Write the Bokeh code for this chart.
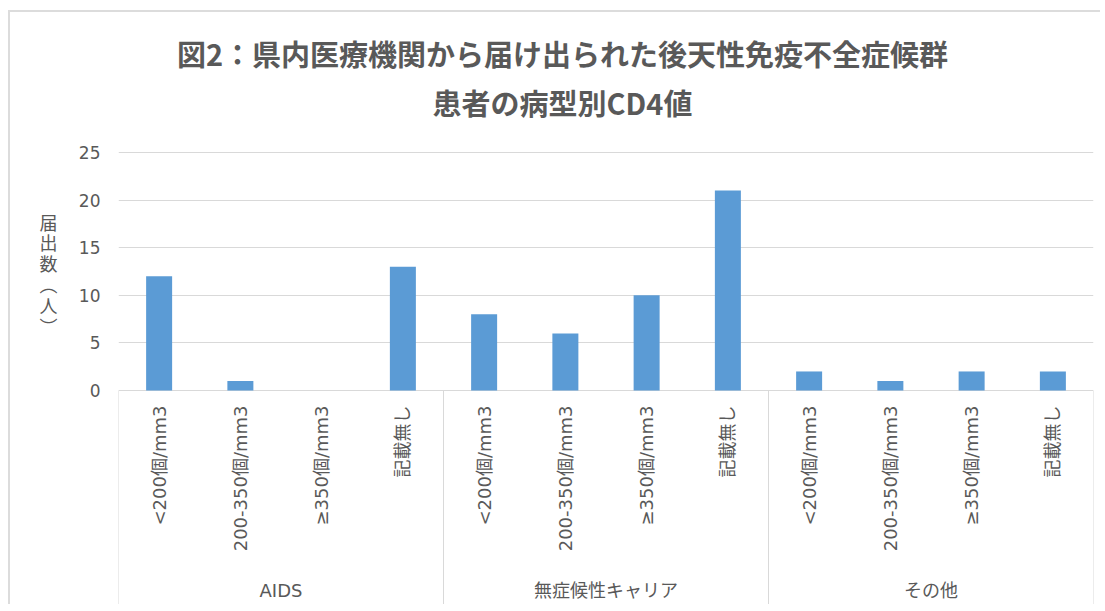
from math import pi
from bokeh.plotting import figure
from bokeh.layouts import row
from bokeh.models import FactorRange, Range1d, FixedTicker, Label, ColumnDataSource
from bokeh.core.properties import value
from bokeh.embed import file_html
from bokeh.resources import INLINE

# ---- data ----
groups = ["AIDS", "無症候性キャリア", "その他"]
subs = ["<200個/mm3", "200-350個/mm3", "≥350個/mm3", "記載無し"]
aids = [12, 1, 0, 13]
carrier = [8, 6, 10, 21]
other = [2, 1, 2, 2]
y_ticks = [0, 5, 10, 15, 20, 25]
title1 = "図2：県内医療機関から届け出られた後天性免疫不全症候群"
title2 = "患者の病型別CD4値"
y_label = "届出数（人）"

# ---- styles ----
FONT = "DejaVu Sans, Noto Sans CJK JP"
CJK = "Noto Sans CJK JP"
TXT = "#595959"
GRID = "#D9D9D9"
BAR = "#5B9BD5"
H = 592
LEFT_W = 62
MAIN_W = 1028

factors = [(g, s) for g in groups for s in subs]
counts = aids + carrier + other
src = ColumnDataSource(dict(x=factors, top=counts, lab=[s for g in groups for s in subs],
                            y0=[0] * len(factors)))

x_range = FactorRange(*factors, factor_padding=0, group_padding=0, range_padding=0)
y_range = Range1d(-22.479, 39.706)

p = figure(x_range=x_range, y_range=y_range, width=MAIN_W, height=H,
           output_backend="svg", toolbar_location=None, x_axis_location=None,
           min_border_left=46, min_border_right=7, min_border_top=0, min_border_bottom=0)
p.outline_line_color = None
p.border_fill_color = "white"

# y grid (includes the 0 baseline)
ticker = FixedTicker(ticks=y_ticks)
p.yaxis.ticker = ticker
p.ygrid.ticker = ticker
p.ygrid.grid_line_color = GRID
p.ygrid.grid_line_width = 1
p.xgrid.visible = False
p.yaxis.axis_line_color = None
p.yaxis.major_tick_line_color = None
p.yaxis.minor_tick_line_color = None
p.yaxis.major_tick_out = 0
p.yaxis.major_label_standoff = 18
p.yaxis.major_label_text_font = FONT
p.yaxis.major_label_text_font_size = "17px"
p.yaxis.major_label_text_color = TXT

p.vbar(x="x", top="top", width=0.32, source=src, fill_color=BAR, line_color=None)

# category labels (rotated, reading bottom to top)
p.text(x="x", y="y0", text="lab", source=src, angle=pi / 2, text_align="right",
       text_baseline="middle", y_offset=15, text_font=value(FONT), text_font_size="18px",
       text_color=TXT)

# group labels
p.text(x=groups, y=[0] * len(groups), text=groups, y_offset=200, text_align="center",
       text_baseline="middle", text_font=value(FONT), text_font_size="18px", text_color=TXT)

# group separators
sep_x = [(g, subs[0], -0.5) for g in groups] + [(groups[-1], subs[-1], 0.5)]
p.segment(x0=sep_x, y0=[0] * len(sep_x), x1=sep_x, y1=[-40] * len(sep_x),
          line_color=GRID, line_width=1)

# titles
p.add_layout(Label(x=444, y=552, x_units="screen", y_units="screen", text=title1,
                   text_align="center", text_baseline="middle", text_font=CJK,
                   text_font_size="29px", text_font_style="bold", text_color=TXT))
p.add_layout(Label(x=444, y=503, x_units="screen", y_units="screen", text=title2,
                   text_align="center", text_baseline="middle", text_font=CJK,
                   text_font_size="29px", text_font_style="bold", text_color=TXT))

# left strip holding the upright vertical y label
left = figure(x_range=Range1d(0, LEFT_W), y_range=y_range, width=LEFT_W, height=H,
              output_backend="svg", toolbar_location=None, x_axis_location=None,
              y_axis_location=None, min_border_left=0, min_border_right=0,
              min_border_top=0, min_border_bottom=0)
left.outline_line_color = None
left.border_fill_color = "white"
left.xgrid.visible = False
left.ygrid.visible = False
vert = "\n".join(y_label.replace("（", "︵").replace("）", "︶"))
left.text(x=[38], y=[y_ticks[-1] / 2], text=[vert], y_offset=2, text_align="center",
          text_baseline="middle", text_font=value(CJK), text_font_size="18px",
          text_line_height=0.8, text_color=TXT)

layout = row(left, p, styles={"margin": "10px 0 0 8px",
                              "border-top": "2px solid #DCDCDC",
                              "border-left": "2px solid #DCDCDC"})

open("out.html", "w").write(file_html(layout, INLINE))
